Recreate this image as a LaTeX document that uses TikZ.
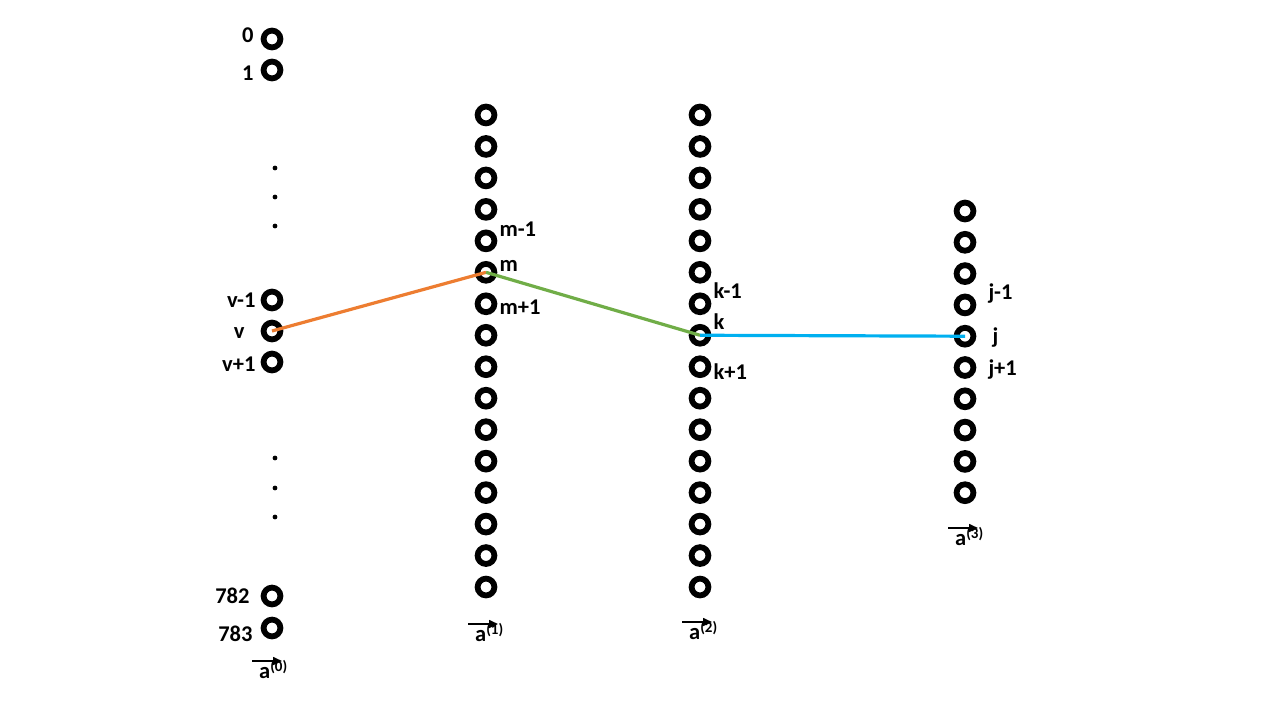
\documentclass[tikz,border=0pt]{standalone}
\usepackage{fontspec}
\setmainfont{Carlito}
\usetikzlibrary{arrows.meta, positioning}

\newcommand{\layersup}[1]{\raisebox{7pt}{\fontsize{15}{15}\selectfont(#1)}}

\begin{document}
\begin{tikzpicture}[x=1pt, y=-1pt,
    neuron/.style={circle, draw, line width=5.8pt, minimum size=16.8pt, inner sep=0pt},
    lbl/.style={font=\bfseries\fontsize{22.5}{26}\selectfont, inner sep=0pt, text height=14pt, text depth=0pt},
    veclbl/.style={font=\bfseries\fontsize{22.5}{26}\selectfont, inner sep=0pt, anchor=base west},
    vecarrow/.style={line width=1.6pt, -{Triangle[length=9pt, width=8pt]}},
    link/.style={line width=3.2pt}
]
\useasboundingbox (0,0) rectangle (1280,720);

% input layer
\node[neuron] (c0-0) at (272,39) {};
\node[neuron] (c0-1) at (272,70) {};
\node[neuron] (c0-vm) at (272,300) {};
\node[neuron] (c0-v) at (272,331) {};
\node[neuron] (c0-vp) at (272,362) {};
\node[neuron] (c0-782) at (272,596) {};
\node[neuron] (c0-783) at (272,628) {};
\foreach \y in {168,197,226,458,488,517}
    \fill (275,\y) circle (2.4);

% hidden layers
\foreach \i in {1,...,16} {
    \node[neuron] (c1-\i) at (486,{83.5+31.47*\i}) {};
    \node[neuron] (c2-\i) at (700,{83.5+31.47*\i}) {};
}
% output layer
\foreach \i in {1,...,10}
    \node[neuron] (c3-\i) at (965,{179.7+31.3*\i}) {};

% path through the network
\draw[link, draw={rgb,255:red,237;green,125;blue,49}] (c0-v.center) -- (c1-6.center);
\draw[link, draw={rgb,255:red,112;green,173;blue,71}] (c1-6.center) -- (c2-8.center);
\draw[link, draw={rgb,255:red,0;green,176;blue,240}] (c2-8.center) -- (c3-5.center);

% indices
\node[lbl, left=7pt of c0-0, yshift=4pt] {0};
\node[lbl, left=7pt of c0-1, yshift=-3pt] {1};
\node[lbl, left=5pt of c0-vm] {v-1};
\node[lbl, left=16pt of c0-v] {v};
\node[lbl, left=5pt of c0-vp, yshift=-2pt] {v+1};
\node[lbl, left=11pt of c0-782] {782};
\node[lbl, left=8pt of c0-783, yshift=-6pt] {783};

\node[lbl, right=2pt of c1-5, yshift=11pt] {m-1};
\node[lbl, right=2pt of c1-6, yshift=8pt] {m};
\node[lbl, right=2pt of c1-7, yshift=-4pt] {m+1};

\node[lbl, right=2pt of c2-7, yshift=12pt] {k-1};
\node[lbl, right=2pt of c2-8, yshift=13pt] {k};
\node[lbl, right=2pt of c2-9, yshift=-6pt] {k+1};

\node[lbl, right=12pt of c3-4, yshift=12pt] {j-1};
\node[lbl, right=16pt of c3-5] {j};
\node[lbl, right=12pt of c3-6, yshift=-1pt] {j+1};

% layer vectors
\node[veclbl] (a0) at (259,678) {a\layersup{0}};
\node[veclbl] (a1) at (475,641) {a\layersup{1}};
\node[veclbl] (a2) at (689,639) {a\layersup{2}};
\node[veclbl] (a3) at (955,545) {a\layersup{3}};
\foreach \v in {a0,a1,a2,a3}
    \draw[vecarrow] ([shift={(-7,-17)}]\v.base west) -- ++(30,0);
\end{tikzpicture}
\end{document}
